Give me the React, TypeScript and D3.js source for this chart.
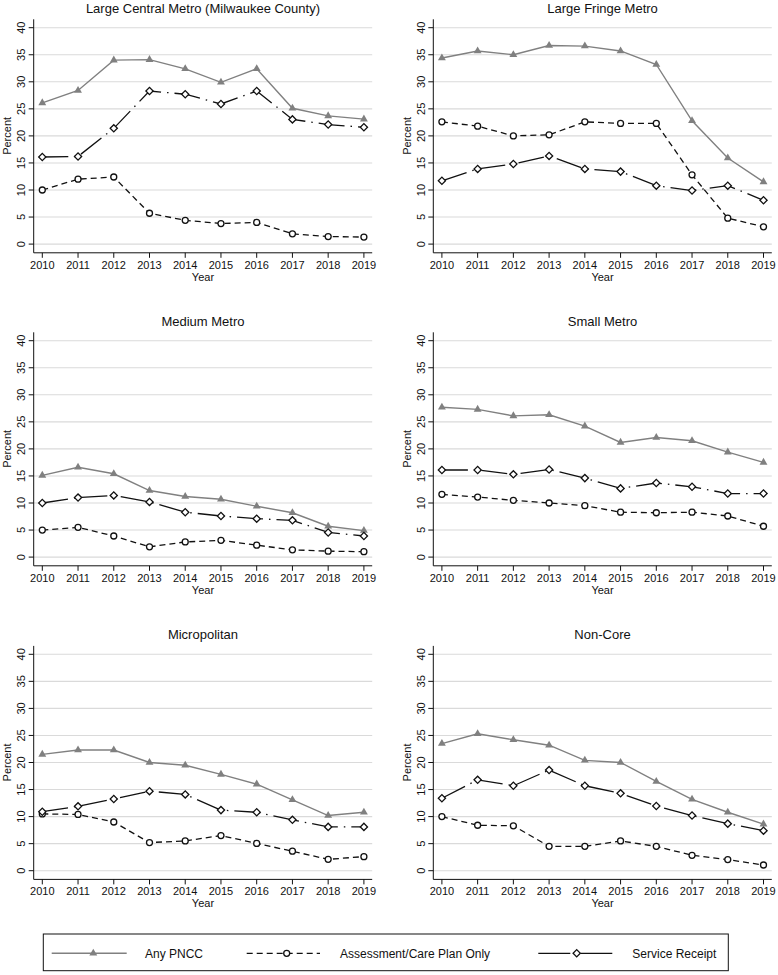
import React from "react";
import * as d3 from "d3";

// Years on the x axis
const years = [2010, 2011, 2012, 2013, 2014, 2015, 2016, 2017, 2018, 2019];
const yTicks = [0, 5, 10, 15, 20, 25, 30, 35, 40];

// Panel titles
const panelTitles = [
  "Large Central Metro (Milwaukee County)",
  "Large Fringe Metro",
  "Medium Metro",
  "Small Metro",
  "Micropolitan",
  "Non-Core",
];

// Any PNCC (percent)
const largeCentralAny = [26.1, 28.4, 34.0, 34.1, 32.4, 29.9, 32.4, 25.1, 23.7, 23.1];
const largeFringeAny = [34.4, 35.7, 35.0, 36.7, 36.6, 35.7, 33.2, 22.8, 15.9, 11.5];
const mediumAny = [15.1, 16.6, 15.4, 12.3, 11.2, 10.7, 9.4, 8.2, 5.7, 4.9];
const smallAny = [27.7, 27.3, 26.1, 26.3, 24.2, 21.2, 22.1, 21.5, 19.4, 17.5];
const microAny = [21.5, 22.3, 22.3, 20.0, 19.5, 17.8, 16.0, 13.1, 10.2, 10.8];
const nonCoreAny = [23.5, 25.3, 24.2, 23.2, 20.4, 20.0, 16.5, 13.2, 10.8, 8.6];

// Assessment/Care Plan Only (percent)
const largeCentralAssess = [10.0, 12.0, 12.4, 5.7, 4.4, 3.8, 4.0, 1.9, 1.4, 1.3];
const largeFringeAssess = [22.6, 21.8, 20.0, 20.2, 22.6, 22.3, 22.3, 12.8, 4.8, 3.2];
const mediumAssess = [5.0, 5.5, 3.9, 1.9, 2.8, 3.1, 2.2, 1.35, 1.1, 1.0];
const smallAssess = [11.6, 11.1, 10.5, 10.0, 9.5, 8.3, 8.2, 8.3, 7.6, 5.7];
const microAssess = [10.5, 10.4, 9.0, 5.2, 5.5, 6.5, 5.05, 3.6, 2.1, 2.6];
const nonCoreAssess = [10.0, 8.4, 8.3, 4.5, 4.5, 5.5, 4.5, 2.85, 2.05, 1.05];

// Service Receipt (percent)
const largeCentralService = [16.1, 16.2, 21.4, 28.3, 27.7, 25.9, 28.3, 23.05, 22.1, 21.6];
const largeFringeService = [11.7, 13.9, 14.8, 16.3, 13.9, 13.4, 10.8, 9.9, 10.8, 8.1];
const mediumService = [10.0, 11.0, 11.4, 10.2, 8.3, 7.6, 7.1, 6.8, 4.55, 3.9];
const smallService = [16.1, 16.1, 15.3, 16.2, 14.6, 12.7, 13.7, 13.0, 11.75, 11.75];
const microService = [10.9, 11.9, 13.25, 14.7, 14.1, 11.2, 10.8, 9.4, 8.1, 8.1];
const nonCoreService = [13.4, 16.8, 15.7, 18.6, 15.7, 14.3, 11.95, 10.2, 8.7, 7.4];

const legendLabels = ["Any PNCC", "Assessment/Care Plan Only", "Service Receipt"];

const anySeries = [largeCentralAny, largeFringeAny, mediumAny, smallAny, microAny, nonCoreAny];
const assessSeries = [largeCentralAssess, largeFringeAssess, mediumAssess, smallAssess, microAssess, nonCoreAssess];
const serviceSeries = [largeCentralService, largeFringeService, mediumService, smallService, microService, nonCoreService];

const FONT = "'Liberation Sans', Arial, Helvetica, sans-serif";
const GRAY = "#808080";
const ASSESS_DASH = "6,4";
const SERVICE_DASH = "26,6,1.5,6";

const triPath = d3.symbol(d3.symbolTriangle, 27)()!;
const diamondPath = d3.symbol(d3.symbolSquare, 26)()!;

// Column / row placement of the plot areas
const axisXs = [33.7, 433.3];
const rowTops = [27.7, 340.7, 654.3];
const plotH = 216.4;

const Panel: React.FC<{ idx: number }> = ({ idx }) => {
  const ax = axisXs[idx % 2];
  const top = rowTops[Math.floor(idx / 2)];
  const x = d3.scaleLinear().domain([2010, 2019]).range([ax + 8.6, ax + 330.2]);
  const y = d3.scaleLinear().domain([0, 40]).range([top + plotH, top]);
  const right = ax + 338.5;
  const axisTop = top - 8.4;
  const axisBottom = top + plotH + 8.7;
  const cx = (ax + right) / 2;

  const line = d3
    .line<number>()
    .x((_, i) => x(years[i]))
    .y((d) => y(d));

  const anyV = anySeries[idx];
  const asV = assessSeries[idx];
  const svV = serviceSeries[idx];

  return (
    <g>
      <text x={cx} y={top - 15} textAnchor="middle" fontSize={13} fontFamily={FONT} fill="#111">
        {panelTitles[idx]}
      </text>
      {/* grid */}
      {yTicks.map((t) => (
        <line key={`g${t}`} x1={ax} x2={right} y1={y(t)} y2={y(t)} stroke="#dadada" strokeWidth={1.1} />
      ))}
      {/* y axis */}
      <line x1={ax} x2={ax} y1={axisTop} y2={axisBottom} stroke="#111" strokeWidth={1} />
      {yTicks.map((t) => (
        <g key={`y${t}`}>
          <line x1={ax - 5} x2={ax} y1={y(t)} y2={y(t)} stroke="#111" strokeWidth={1} />
          <text
            transform={`translate(${ax - 8.5},${y(t)}) rotate(-90)`}
            textAnchor="middle"
            fontSize={11}
            fontFamily={FONT}
            fill="#111"
          >
            {t}
          </text>
        </g>
      ))}
      <text
        transform={`translate(${ax - 22.3},${top + plotH / 2}) rotate(-90)`}
        textAnchor="middle"
        fontSize={11}
        fontFamily={FONT}
        fill="#111"
      >
        Percent
      </text>
      {/* x axis */}
      <line x1={ax} x2={right} y1={axisBottom} y2={axisBottom} stroke="#111" strokeWidth={1} />
      {years.map((yr) => (
        <g key={`x${yr}`}>
          <line x1={x(yr)} x2={x(yr)} y1={axisBottom} y2={axisBottom + 5} stroke="#111" strokeWidth={1} />
          <text x={x(yr)} y={axisBottom + 16} textAnchor="middle" fontSize={11} fontFamily={FONT} fill="#111">
            {yr}
          </text>
        </g>
      ))}
      <text x={cx} y={axisBottom + 28} textAnchor="middle" fontSize={11} fontFamily={FONT} fill="#111">
        Year
      </text>
      {/* series */}
      <path d={line(anyV)!} fill="none" stroke={GRAY} strokeWidth={1.4} />
      <path d={line(asV)!} fill="none" stroke="#111" strokeWidth={1.3} strokeDasharray={ASSESS_DASH} />
      <path d={line(svV)!} fill="none" stroke="#111" strokeWidth={1.3} strokeDasharray={SERVICE_DASH} />
      {anyV.map((v, i) => (
        <path key={`a${i}`} d={triPath} transform={`translate(${x(years[i])},${y(v)})`} fill={GRAY} />
      ))}
      {asV.map((v, i) => (
        <circle key={`c${i}`} cx={x(years[i])} cy={y(v)} r={3} fill="#fff" stroke="#111" strokeWidth={1.3} />
      ))}
      {svV.map((v, i) => (
        <path
          key={`d${i}`}
          d={diamondPath}
          transform={`translate(${x(years[i])},${y(v)}) rotate(45)`}
          fill="#fff"
          stroke="#111"
          strokeWidth={1.3}
        />
      ))}
    </g>
  );
};

const Legend: React.FC = () => {
  const ly = 953.3;
  return (
    <g fontFamily={FONT} fontSize={12} fill="#111">
      <rect x={43.3} y={934} width={685} height={36.7} fill="#fff" stroke="#111" strokeWidth={1} />
      <line x1={51.7} x2={126.7} y1={ly} y2={ly} stroke={GRAY} strokeWidth={1.4} />
      <path d={triPath} transform={`translate(93.3,${ly})`} fill={GRAY} />
      <text x={145} y={ly + 4.2}>{legendLabels[0]}</text>
      <line x1={246.7} x2={320} y1={ly} y2={ly} stroke="#111" strokeWidth={1.3} strokeDasharray={ASSESS_DASH} />
      <circle cx={286.7} cy={ly} r={3} fill="#fff" stroke="#111" strokeWidth={1.3} />
      <text x={340} y={ly + 4.2}>{legendLabels[1]}</text>
      <line x1={538.3} x2={613.3} y1={ly} y2={ly} stroke="#111" strokeWidth={1.3} strokeDasharray="32,10" />
      <path d={diamondPath} transform={`translate(576.7,${ly}) rotate(45)`} fill="#fff" stroke="#111" strokeWidth={1.3} />
      <text x={632.3} y={ly + 4.2}>{legendLabels[2]}</text>
    </g>
  );
};

export default function App() {
  return (
    <svg
      width={778}
      height={975}
      style={{ position: "absolute", left: 0, top: 0, background: "#fff" }}
    >
      <rect x={0} y={0} width={778} height={975} fill="#fff" />
      {panelTitles.map((_, i) => (
        <Panel key={i} idx={i} />
      ))}
      <Legend />
    </svg>
  );
}
